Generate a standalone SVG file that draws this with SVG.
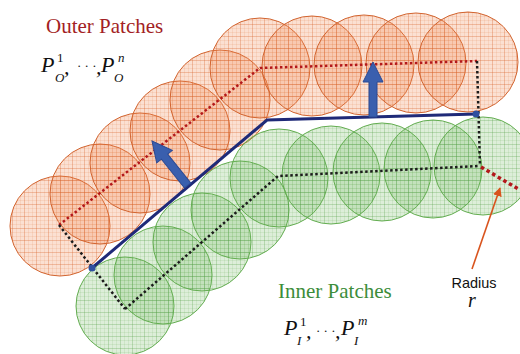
<svg xmlns="http://www.w3.org/2000/svg" width="520" height="354" viewBox="0 0 520 354">
<style>
.oc{fill:url(#po);stroke:#d2642f;stroke-width:1}
.ic{fill:url(#pg);stroke:#63ad50;stroke-width:1}
.rd{fill:none;stroke:#b3181b;stroke-width:2.5;stroke-dasharray:2.5 2.5}
.bd{fill:none;stroke:#1c1c1c;stroke-width:2.5;stroke-dasharray:2.5 2.5}
.ttl{font-family:"Liberation Serif",serif;font-size:21px}
.m{font-family:"Liberation Serif",serif;font-size:22px;font-style:italic;fill:#111}
.ms{font-family:"Liberation Serif",serif;font-size:13px;fill:#111}
.msi{font-family:"Liberation Serif",serif;font-size:13px;font-style:italic;fill:#111}
.arr{fill:#3a5fae;stroke:#2b4a94;stroke-width:1}
</style>
<defs>
<pattern id="po" width="12" height="12" patternUnits="userSpaceOnUse">
<rect width="12" height="12" fill="#f08552" fill-opacity="0.26"/>
<path d="M0,0.5H12M0.5,0V12" stroke="#d9602a" stroke-opacity="0.32" stroke-width="1"/>
<path d="M0,4.5H12M0,8.5H12M4.5,0V12M8.5,0V12" stroke="#e06a35" stroke-opacity="0.12" stroke-width="1"/>
</pattern>
<pattern id="pg" width="12" height="12" patternUnits="userSpaceOnUse">
<rect width="12" height="12" fill="#72b860" fill-opacity="0.24"/>
<path d="M0,0.5H12M0.5,0V12" stroke="#4f9a3e" stroke-opacity="0.28" stroke-width="1"/>
<path d="M0,4.5H12M0,8.5H12M4.5,0V12M8.5,0V12" stroke="#5aa548" stroke-opacity="0.12" stroke-width="1"/>
</pattern>
<marker id="ah" viewBox="0 0 10 10" refX="9" refY="5" markerWidth="9" markerHeight="9" markerUnits="userSpaceOnUse" orient="auto">
<path d="M0,0 L10,5 L0,10 Z" fill="#d9541e"/>
</marker>
</defs>
<rect width="520" height="354" fill="#ffffff"/>

<g id="outer-patches">
<g id="op1"><circle class="oc" cx="60" cy="226" r="50"/></g>
<g id="op2"><circle class="oc" cx="100" cy="194" r="50"/></g>
<g id="op3"><circle class="oc" cx="140" cy="163" r="50"/></g>
<g id="op4"><circle class="oc" cx="180" cy="131" r="50"/></g>
<g id="op5"><circle class="oc" cx="220" cy="100" r="50"/></g>
<g id="op6"><circle class="oc" cx="260" cy="68" r="50"/></g>
<g id="op7"><circle class="oc" cx="312" cy="66" r="50"/></g>
<g id="op8"><circle class="oc" cx="364" cy="65" r="50"/></g>
<g id="op9"><circle class="oc" cx="416" cy="63" r="50"/></g>
<g id="op10"><circle class="oc" cx="468" cy="62" r="50"/></g>
</g>

<g id="inner-patches">
<g id="ip1"><circle class="ic" cx="125" cy="306" r="49"/></g>
<g id="ip2"><circle class="ic" cx="163" cy="275" r="49"/></g>
<g id="ip3"><circle class="ic" cx="202" cy="242" r="49"/></g>
<g id="ip4"><circle class="ic" cx="240" cy="210" r="49"/></g>
<g id="ip5"><circle class="ic" cx="279" cy="178" r="49"/></g>
<g id="ip6"><circle class="ic" cx="331" cy="175" r="49"/></g>
<g id="ip7"><circle class="ic" cx="382" cy="172" r="49"/></g>
<g id="ip8"><circle class="ic" cx="433" cy="169" r="49"/></g>
<g id="ip9"><circle class="ic" cx="483" cy="166" r="49"/></g>
</g>

<g id="connectors">
<path class="rd" d="M59,225 L260,68 L477,61"/>
<path class="bd" d="M59,225 L125,309"/>
<path class="bd" d="M125,309 L278,176 L480,166"/>
<path class="bd" d="M477,61 L480,166"/>
<path fill="none" stroke="#b3181b" stroke-width="3.5" stroke-dasharray="3.5 3" d="M481,167 L520,190"/>
<path fill="none" stroke="#1f2a78" stroke-width="3" stroke-linejoin="miter" d="M92,268 L267,120 L476,114"/>
<circle cx="92" cy="268" r="3.5" fill="#2f4f9f"/>
<circle cx="476" cy="114" r="3.5" fill="#2f4f9f"/>
<path class="arr" transform="translate(152,141) rotate(-38.7)" d="M0,0 L10,20 L4,20 L4,57 L-4,57 L-4,20 L-10,20 Z"/>
<path class="arr" d="M373,62 L383,82 L377,82 L377,117 L369,117 L369,82 L363,82 Z"/>
<line x1="472" y1="269" x2="500" y2="188" stroke="#d9541e" stroke-width="1.6" marker-end="url(#ah)"/>
</g>

<g id="label-outer">
<text class="ttl" x="46" y="33" fill="#a31f24">Outer Patches</text>
<text class="m" x="41" y="72">P</text>
<text class="ms" x="57" y="62">1</text>
<text class="msi" x="55" y="82">O</text>
<text class="m" x="64" y="74">,</text>
<text class="ms" x="77" y="70" font-size="14">· · ·</text>
<text class="m" x="96" y="74">,</text>
<text class="m" x="101" y="72">P</text>
<text class="msi" x="118" y="62">n</text>
<text class="msi" x="114" y="82">O</text>
</g>

<g id="label-inner">
<text class="ttl" x="278" y="298" fill="#3c8d3a">Inner Patches</text>
<text class="m" x="284" y="335">P</text>
<text class="ms" x="300" y="326">1</text>
<text class="msi" x="297" y="345">I</text>
<text class="m" x="306" y="338">,</text>
<text class="ms" x="316" y="335" font-size="14">· · ·</text>
<text class="m" x="335" y="338">,</text>
<text class="m" x="341" y="335">P</text>
<text class="msi" x="358" y="325">m</text>
<text class="msi" x="354" y="345">I</text>
</g>

<g id="label-radius">
<text x="474" y="288" text-anchor="middle" font-family="Liberation Sans, Arial, sans-serif" font-size="15" textLength="45" lengthAdjust="spacingAndGlyphs" fill="#111">Radius</text>
<text x="472" y="307" text-anchor="middle" font-family="Liberation Serif, serif" font-style="italic" font-size="20" fill="#111">r</text>
</g>
</svg>
